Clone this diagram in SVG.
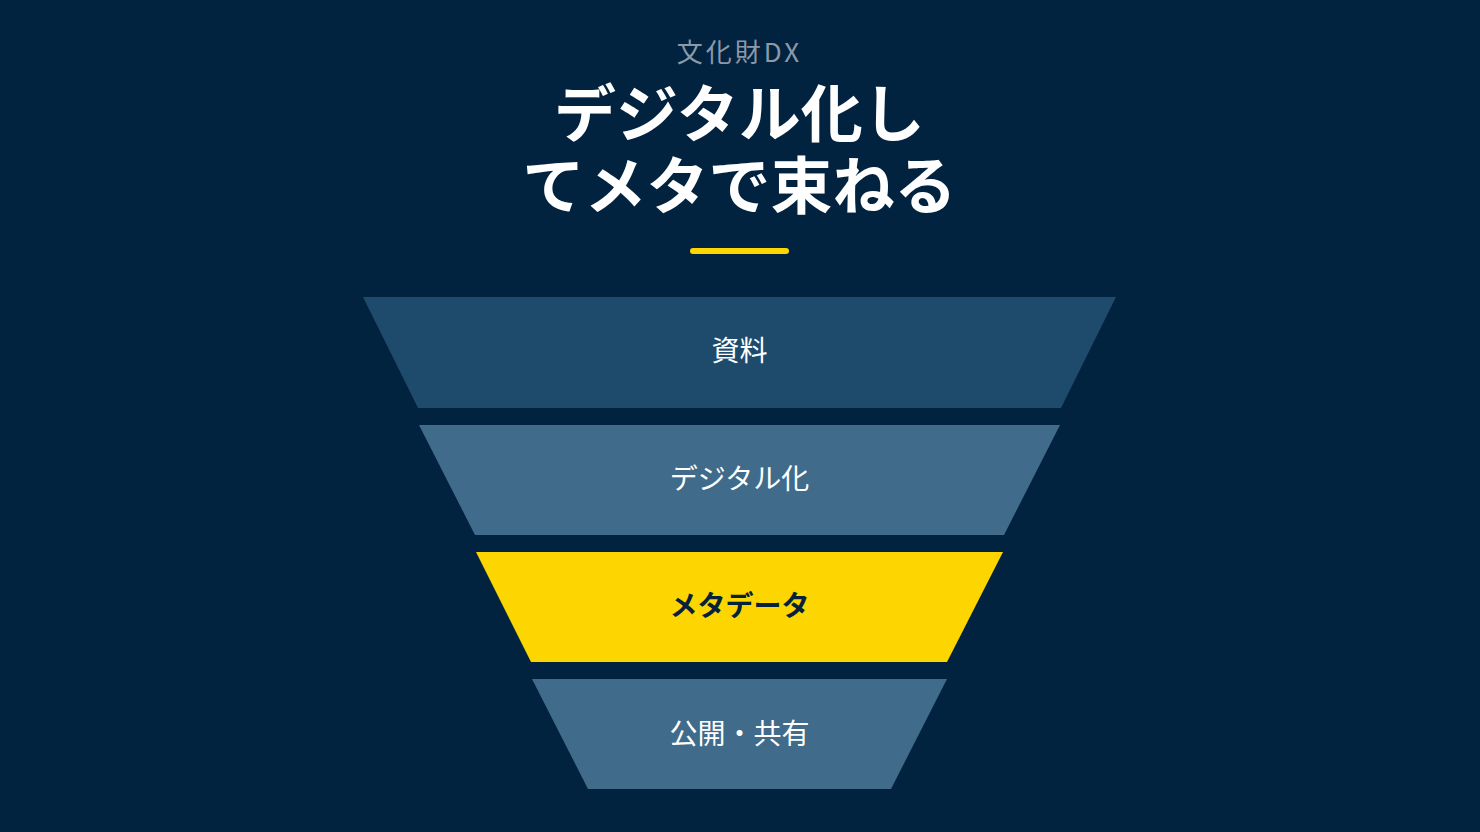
<svg xmlns="http://www.w3.org/2000/svg" width="1480" height="832" viewBox="0 0 1480 832">
<style>
.t{font-family:"Noto Sans CJK JP","Noto Sans",sans-serif;text-anchor:middle}
.lbl{font-size:28px;fill:#ffffff}
.title{font-size:62px;font-weight:700;fill:#ffffff}
</style>
<rect width="1480" height="832" fill="#02233f"/>
<g id="header">
<text class="t" x="739.5" y="62" font-size="26" letter-spacing="3" fill="#8a9aa9">文化財DX</text>
<text class="t title" x="739.5" y="137">デジタル化し</text>
<text class="t title" x="739.5" y="209">てメタで束ねる</text>
<rect x="690" y="248" width="99" height="6" rx="3" fill="#fdd500"/>
</g>
<g id="connectors"></g>
<g id="layer1">
<polygon points="363,297 1116,297 1061,408 418,408" fill="#1e4a6b"/>
<text class="t lbl" x="739.5" y="361">資料</text>
</g>
<g id="layer2">
<polygon points="419,425 1060,425 1004,535 475,535" fill="#406b8b"/>
<text class="t lbl" x="739.5" y="489">デジタル化</text>
</g>
<g id="layer3">
<polygon points="476,552 1003,552 947,662 531,662" fill="#fdd500"/>
<text class="t lbl" x="739.5" y="616" font-weight="700" style="fill:#06213a">メタデータ</text>
</g>
<g id="layer4">
<polygon points="532,679 947,679 891,789 588,789" fill="#406b8b"/>
<text class="t lbl" x="739.5" y="744">公開・共有</text>
</g>
</svg>
